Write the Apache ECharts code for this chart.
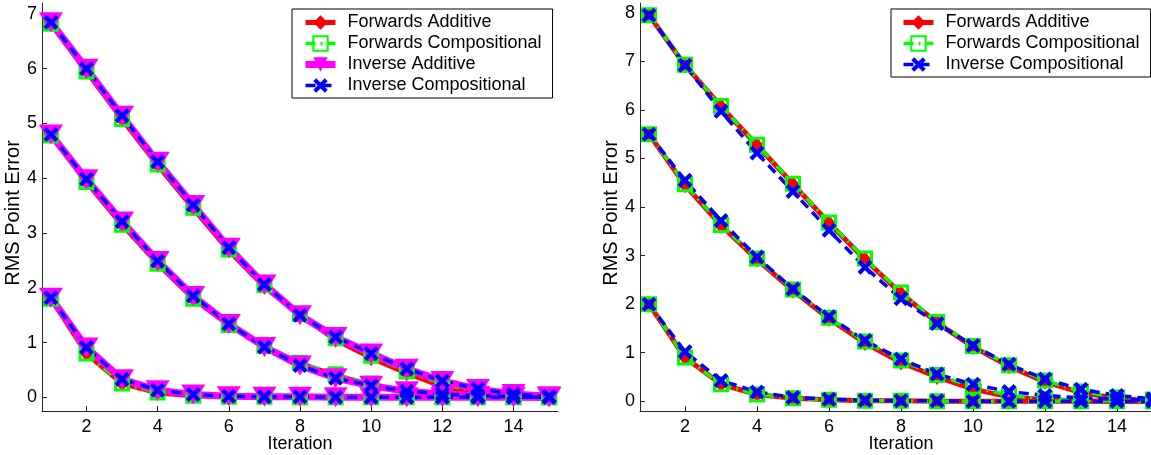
<!DOCTYPE html>
<html>
<head>
<meta charset="utf-8">
<script src="https://cdn.jsdelivr.net/npm/echarts@6/dist/echarts.min.js"></script>
<style>
html,body{margin:0;padding:0;background:#fff;}
#chart{width:1151px;height:455px;}
</style>
</head>
<body>
<div id="chart"></div>
<script>
// ---------- data ----------
const iterations = [1,2,3,4,5,6,7,8,9,10,11,12,13,14,15];
const xTicks = [2,4,6,8,10,12,14];
const yTicksLeft = [0,1,2,3,4,5,6,7];
const yTicksRight = [0,1,2,3,4,5,6,7,8];
const seriesNames = ['Forwards Additive','Forwards Compositional','Inverse Additive','Inverse Compositional'];

// Left panel: three curves (top / middle / bottom) per method
const leftFA_top = [6.82,5.95,5.08,4.24,3.45,2.68,2.02,1.50,1.05,0.72,0.44,0.20,0.07,0.02,0.01];
const leftFC_top = [6.82,5.95,5.08,4.25,3.46,2.70,2.05,1.52,1.08,0.76,0.47,0.25,0.10,0.04,0.01];
const leftIA_top = [6.85,6.00,5.14,4.30,3.51,2.73,2.06,1.50,1.10,0.80,0.52,0.30,0.15,0.06,0.02];
const leftIC_top = [6.85,6.00,5.14,4.30,3.51,2.73,2.06,1.50,1.10,0.80,0.52,0.30,0.15,0.06,0.02];

const leftFA_mid = [4.78,3.93,3.15,2.44,1.80,1.32,0.93,0.62,0.40,0.22,0.11,0.05,0.02,0.01,0.00];
const leftFC_mid = [4.78,3.93,3.15,2.44,1.80,1.32,0.94,0.63,0.42,0.25,0.13,0.06,0.03,0.01,0.00];
const leftIA_mid = [4.80,3.98,3.21,2.49,1.85,1.34,0.92,0.58,0.35,0.21,0.11,0.06,0.03,0.01,0.00];
const leftIC_mid = [4.80,3.98,3.21,2.49,1.85,1.34,0.92,0.58,0.35,0.21,0.11,0.06,0.03,0.01,0.00];

const leftFA_bot = [1.80,0.80,0.25,0.08,0.03,0.01,0.01,0.00,0.00,0.00,0.00,0.00,0.00,0.00,0.00];
const leftFC_bot = [1.80,0.80,0.25,0.09,0.03,0.01,0.01,0.00,0.00,0.00,0.00,0.00,0.00,0.00,0.00];
const leftIA_bot = [1.82,0.91,0.33,0.13,0.05,0.02,0.01,0.01,0.00,0.00,0.00,0.00,0.00,0.00,0.00];
const leftIC_bot = [1.82,0.91,0.33,0.13,0.05,0.02,0.01,0.01,0.00,0.00,0.00,0.00,0.00,0.00,0.00];

// Right panel
const rightFA_top = [7.95,6.92,6.07,5.27,4.47,3.67,2.92,2.22,1.62,1.12,0.72,0.40,0.18,0.06,0.02];
const rightFC_top = [7.95,6.93,6.08,5.28,4.48,3.68,2.94,2.24,1.63,1.14,0.74,0.43,0.20,0.08,0.03];
const rightIC_top = [7.95,6.92,5.97,5.11,4.32,3.52,2.76,2.11,1.60,1.15,0.76,0.46,0.25,0.12,0.05];

const rightFA_mid = [5.50,4.45,3.62,2.92,2.28,1.70,1.20,0.80,0.50,0.25,0.09,0.03,0.01,0.00,0.00];
const rightFC_mid = [5.50,4.47,3.63,2.94,2.30,1.72,1.23,0.84,0.54,0.30,0.12,0.05,0.02,0.01,0.00];
const rightIC_mid = [5.50,4.55,3.72,2.97,2.31,1.74,1.25,0.87,0.56,0.35,0.20,0.12,0.07,0.04,0.02];

const rightFA_bot = [2.00,0.90,0.35,0.14,0.06,0.03,0.01,0.01,0.00,0.00,0.00,0.00,0.00,0.00,0.00];
const rightFC_bot = [2.00,0.90,0.35,0.14,0.06,0.03,0.01,0.01,0.00,0.00,0.00,0.00,0.00,0.00,0.00];
const rightIC_bot = [2.00,1.02,0.43,0.19,0.08,0.04,0.02,0.01,0.01,0.00,0.00,0.00,0.00,0.00,0.00];

// ---------- styles ----------
const FONT = 'Liberation Sans, Arial, Helvetica, sans-serif';
const AXIS_COLOR = '#262626';
const X_PATH = 'path://M2,0 L5,3 L8,0 L10,2 L7,5 L10,8 L8,10 L5,7 L2,10 L0,8 L3,5 L0,2 Z';

const styles = {
  'Forwards Additive': {
    symbol: 'diamond', symbolSize: [13, 16],
    itemStyle: { color: '#ff0000' },
    lineStyle: { color: '#ff0000', width: 5, type: 'solid' }
  },
  'Forwards Compositional': {
    symbol: 'rect', symbolSize: 13,
    itemStyle: { color: 'rgba(0,0,0,0)', borderColor: '#00ff00', borderWidth: 3 },
    lineStyle: { color: '#00ff00', width: 3.5, type: [10, 5, 2, 5] }
  },
  'Inverse Additive': {
    symbol: 'triangle', symbolRotate: 180, symbolSize: [24, 20],
    itemStyle: { color: '#ff00ff' },
    lineStyle: { color: '#ff00ff', width: 7, type: 'solid' }
  },
  'Inverse Compositional': {
    symbol: X_PATH, symbolSize: 15,
    itemStyle: { color: '#0000ff' },
    lineStyle: { color: '#0000ff', width: 3.5, type: [10, 6] }
  }
};

function mk(name, values, idx) {
  const s = styles[name];
  return Object.assign({
    type: 'line', name: name,
    xAxisIndex: idx, yAxisIndex: idx,
    data: iterations.map((x, i) => [x, values[i]]),
    showAllSymbol: true, animation: false, silent: true,
    emphasis: { disabled: true }
  }, JSON.parse(JSON.stringify(s)), { symbol: s.symbol });
}

const series = [
  mk('Forwards Additive', leftFA_top, 0), mk('Forwards Additive', leftFA_mid, 0), mk('Forwards Additive', leftFA_bot, 0),
  mk('Forwards Compositional', leftFC_top, 0), mk('Forwards Compositional', leftFC_mid, 0), mk('Forwards Compositional', leftFC_bot, 0),
  mk('Inverse Additive', leftIA_top, 0), mk('Inverse Additive', leftIA_mid, 0), mk('Inverse Additive', leftIA_bot, 0),
  mk('Inverse Compositional', leftIC_top, 0), mk('Inverse Compositional', leftIC_mid, 0), mk('Inverse Compositional', leftIC_bot, 0),
  mk('Forwards Additive', rightFA_top, 1), mk('Forwards Additive', rightFA_mid, 1), mk('Forwards Additive', rightFA_bot, 1),
  mk('Forwards Compositional', rightFC_top, 1), mk('Forwards Compositional', rightFC_mid, 1), mk('Forwards Compositional', rightFC_bot, 1),
  mk('Inverse Compositional', rightIC_top, 1), mk('Inverse Compositional', rightIC_mid, 1), mk('Inverse Compositional', rightIC_bot, 1)
];

function xAxis(gridIndex) {
  return {
    type: 'value', gridIndex: gridIndex, min: 0.75, max: 15.25,
    name: 'Iteration', nameLocation: 'middle', nameGap: 24, nameMoveOverlap: false,
    nameTextStyle: { fontFamily: FONT, fontSize: 18, color: '#000' },
    axisLine: { show: true, onZero: false, lineStyle: { color: AXIS_COLOR, width: 1 } },
    axisTick: { show: true, inside: true, length: 5, customValues: xTicks, lineStyle: { color: AXIS_COLOR } },
    axisLabel: { show: true, customValues: xTicks, margin: 7, fontFamily: FONT, fontSize: 18, color: '#000' },
    splitLine: { show: false }
  };
}
function yAxis(gridIndex, min, max, ticks) {
  return {
    type: 'value', gridIndex: gridIndex, min: min, max: max,
    name: 'RMS Point Error', nameLocation: 'middle', nameGap: 15,
    nameTextStyle: { fontFamily: FONT, fontSize: 20, color: '#000', padding: [0, 12, 0, 0] },
    axisLine: { show: true, onZero: false, lineStyle: { color: AXIS_COLOR, width: 1 } },
    axisTick: { show: true, inside: true, length: 5, customValues: ticks, lineStyle: { color: AXIS_COLOR } },
    axisLabel: { show: true, customValues: ticks, margin: 5, fontFamily: FONT, fontSize: 18, color: '#000' },
    splitLine: { show: false }
  };
}

function legendItems(names) {
  return names.map(n => ({
    name: n,
    lineStyle: JSON.parse(JSON.stringify(styles[n].lineStyle))
  }));
}
function legend(left, names) {
  return {
    orient: 'vertical', left: left, top: 9,
    data: legendItems(names),
    itemWidth: 30, itemHeight: 18, itemGap: 0,
    padding: [3, 11, 2, 10],
    borderColor: '#000', borderWidth: 1, backgroundColor: '#fff',
    selectedMode: false,
    textStyle: { fontFamily: FONT, fontSize: 18, color: '#000', lineHeight: 21, padding: [0, 0, 0, 7] }
  };
}

const option = {
  backgroundColor: '#fff',
  animation: false,
  grid: [
    { left: 42, top: 3, width: 516, height: 408, containLabel: false, outerBoundsMode: 'none' },
    { left: 640, top: 3, width: 522, height: 408, containLabel: false, outerBoundsMode: 'none' }
  ],
  xAxis: [xAxis(0), xAxis(1)],
  yAxis: [yAxis(0, -0.25, 7.2, yTicksLeft), yAxis(1, -0.2, 8.2, yTicksRight)],
  legend: [
    legend(292, seriesNames),
    legend(891, ['Forwards Additive', 'Forwards Compositional', 'Inverse Compositional'])
  ],
  series: series
};

const chart = echarts.init(document.getElementById('chart'), null, { renderer: 'canvas' });
chart.setOption(option);
</script>
</body>
</html>
